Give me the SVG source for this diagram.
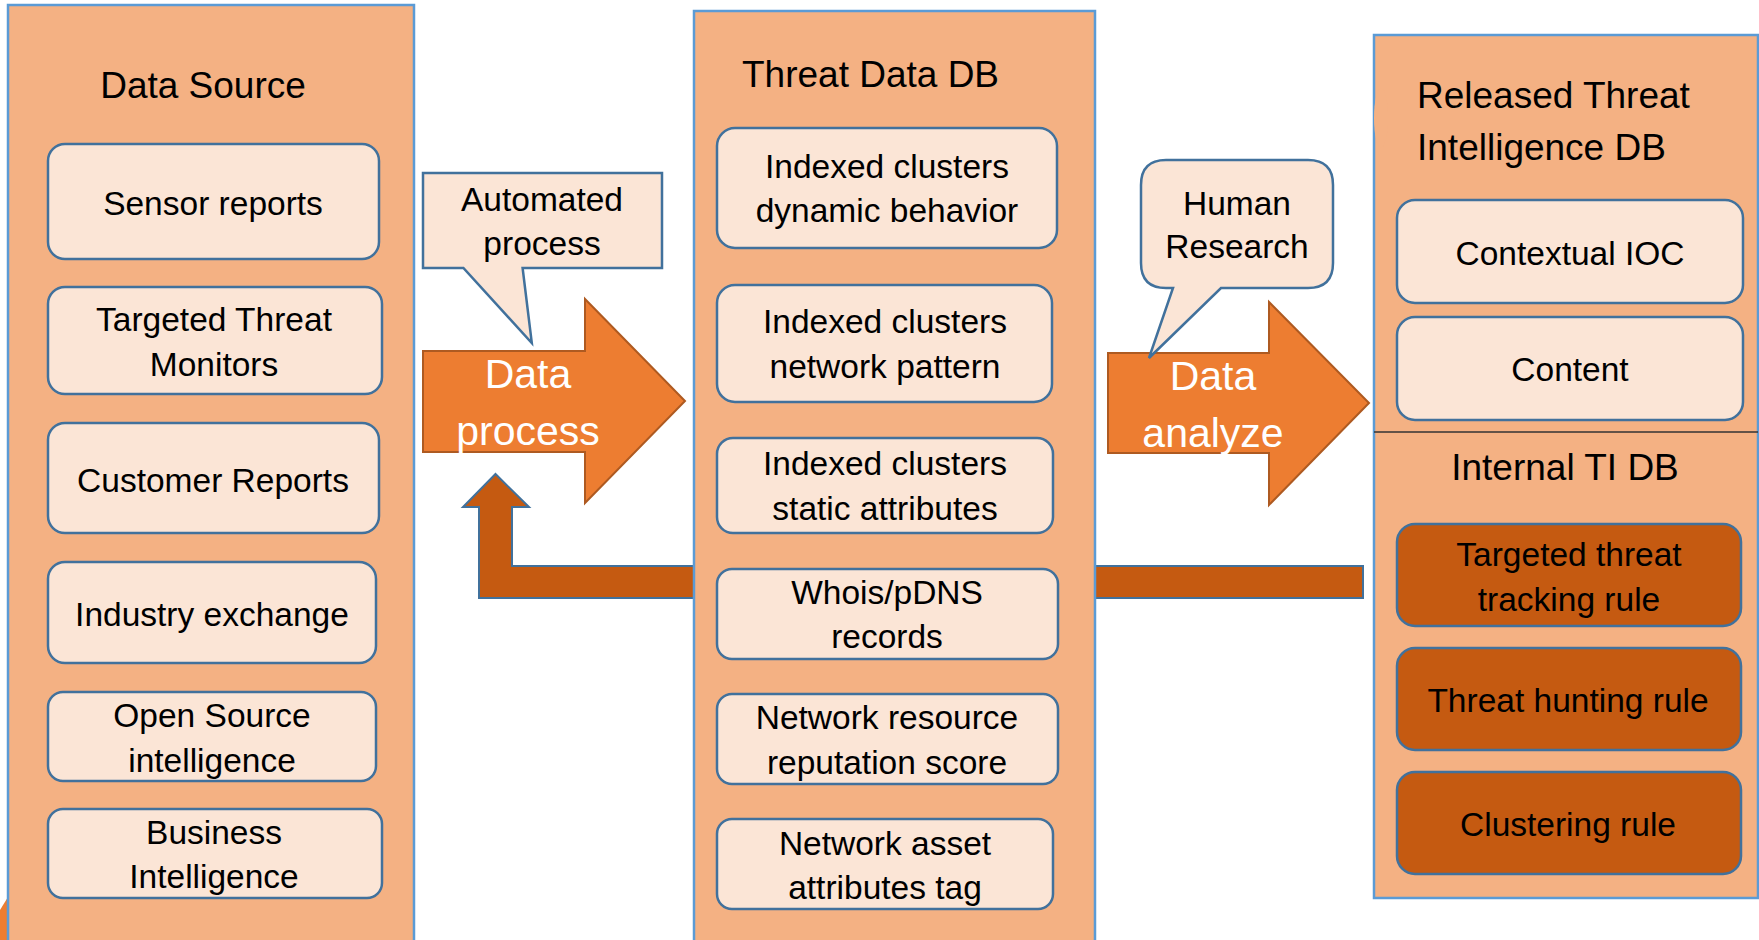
<svg xmlns="http://www.w3.org/2000/svg" width="1759" height="940" viewBox="0 0 1759 940">
<defs>
<style>
.panel{fill:#f4b183;stroke:#5b9bd5;stroke-width:2.5}
.box{fill:#fbe5d6;stroke:#41719c;stroke-width:2.5}
.dbox{fill:#c55a11;stroke:#41719c;stroke-width:2.5}
.arrow{fill:#ed7d31;stroke:#ae5a21;stroke-width:2}
.ret{fill:#c55a11;stroke:#41719c;stroke-width:2}
.call{fill:#fbe5d6;stroke:#41719c;stroke-width:2.5}
text{font-family:"Liberation Sans",Arial,sans-serif;fill:#000}
.t{font-size:33.5px;text-anchor:middle}
.h{font-size:37px}
.w{font-size:41px;fill:#fff;text-anchor:middle}
</style>
</defs>
<rect width="1759" height="940" fill="#fff"/>
<polygon points="0,910 8,897 8,940 0,940" fill="#ed7d31"/>

<g id="connectors">
<path id="return-arrow" class="ret" d="M1363,566 H512 V507 H529 L495.5,474 L463,507 H479 V598 H1363 Z"/>
<path id="data-process" class="arrow" d="M423,351 H585 V299 L685,401 L585,503 V452 H423 Z"/>
<text class="w" x="528" y="388">Data</text>
<text class="w" x="528" y="445">process</text>
<path id="data-analyze" class="arrow" d="M1108,353 H1269 V302 L1369,403 L1269,505 V453 H1108 Z"/>
<text class="w" x="1213" y="390">Data</text>
<text class="w" x="1213" y="447">analyze</text>
</g>

<g id="data-source">
<rect class="panel" x="8" y="5" width="406" height="950"/>
<text class="h" x="203" y="98" text-anchor="middle">Data Source</text>
<g id="sensor-reports"><rect class="box" x="48" y="144" width="331" height="115" rx="17"/><text class="t" x="213" y="215">Sensor reports</text></g>
<g id="targeted-threat-monitors"><rect class="box" x="48" y="287" width="334" height="107" rx="17"/><text class="t" x="214" y="331">Targeted Threat</text><text class="t" x="214" y="376">Monitors</text></g>
<g id="customer-reports"><rect class="box" x="48" y="423" width="331" height="110" rx="17"/><text class="t" x="213" y="492">Customer Reports</text></g>
<g id="industry-exchange"><rect class="box" x="48" y="562" width="328" height="101" rx="17"/><text class="t" x="212" y="626">Industry exchange</text></g>
<g id="osint"><rect class="box" x="48" y="692" width="328" height="89" rx="15"/><text class="t" x="212" y="727">Open Source</text><text class="t" x="212" y="772">intelligence</text></g>
<g id="business-intelligence"><rect class="box" x="48" y="809" width="334" height="89" rx="15"/><text class="t" x="214" y="844">Business</text><text class="t" x="214" y="888">Intelligence</text></g>
</g>

<g id="threat-data-db">
<rect class="panel" x="694" y="11" width="401" height="950"/>
<text class="h" x="742" y="87">Threat Data DB</text>
<g id="dynamic-behavior"><rect class="box" x="717" y="128" width="340" height="120" rx="18"/><text class="t" x="887" y="178">Indexed clusters</text><text class="t" x="887" y="222">dynamic behavior</text></g>
<g id="network-pattern"><rect class="box" x="717" y="285" width="335" height="117" rx="18"/><text class="t" x="885" y="333">Indexed clusters</text><text class="t" x="885" y="378">network pattern</text></g>
<g id="static-attributes"><rect class="box" x="717" y="438" width="336" height="95" rx="16"/><text class="t" x="885" y="475">Indexed clusters</text><text class="t" x="885" y="520">static attributes</text></g>
<g id="whois-pdns"><rect class="box" x="717" y="569" width="341" height="90" rx="15"/><text class="t" x="887" y="604">Whois/pDNS</text><text class="t" x="887" y="648">records</text></g>
<g id="reputation-score"><rect class="box" x="717" y="694" width="341" height="90" rx="15"/><text class="t" x="887" y="729">Network resource</text><text class="t" x="887" y="774">reputation score</text></g>
<g id="asset-tag"><rect class="box" x="717" y="819" width="336" height="90" rx="15"/><text class="t" x="885" y="855">Network asset</text><text class="t" x="885" y="899">attributes tag</text></g>
</g>

<g id="released-ti-db">
<rect class="panel" x="1374" y="35" width="384" height="863"/>
<ellipse cx="1381" cy="118" rx="7" ry="30" fill="#f4b183"/>
<text class="h" x="1417" y="108">Released Threat</text>
<text class="h" x="1417" y="160">Intelligence DB</text>
<g id="contextual-ioc"><rect class="box" x="1397" y="200" width="346" height="103" rx="18"/><text class="t" x="1570" y="265">Contextual IOC</text></g>
<g id="content"><rect class="box" x="1397" y="317" width="346" height="103" rx="18"/><text class="t" x="1570" y="381">Content</text></g>
<line x1="1374" y1="432" x2="1758" y2="432" stroke="#333" stroke-width="1.5"/>
<text class="h" x="1565" y="480" text-anchor="middle">Internal TI DB</text>
<g id="tracking-rule"><rect class="dbox" x="1397" y="524" width="344" height="102" rx="18"/><text class="t" x="1569" y="566">Targeted threat</text><text class="t" x="1569" y="611">tracking rule</text></g>
<g id="hunting-rule"><rect class="dbox" x="1397" y="648" width="344" height="102" rx="18"/><text class="t" x="1568" y="712">Threat hunting rule</text></g>
<g id="clustering-rule"><rect class="dbox" x="1397" y="772" width="344" height="102" rx="18"/><text class="t" x="1568" y="836">Clustering rule</text></g>
</g>

<g id="automated-process">
<path class="call" d="M423,173 H662 V268 H522.6 L531.8,343 L463.4,268 H423 Z"/>
<text class="t" x="542" y="211">Automated</text>
<text class="t" x="542" y="255">process</text>
</g>

<g id="human-research">
<path class="call" d="M1166,160 H1308 Q1333,160 1333,185 V263 Q1333,288 1308,288 H1221 L1149,358 L1173,288 H1166 Q1141,288 1141,263 V185 Q1141,160 1166,160 Z"/>
<text class="t" x="1237" y="215">Human</text>
<text class="t" x="1237" y="258">Research</text>
</g>
</svg>
